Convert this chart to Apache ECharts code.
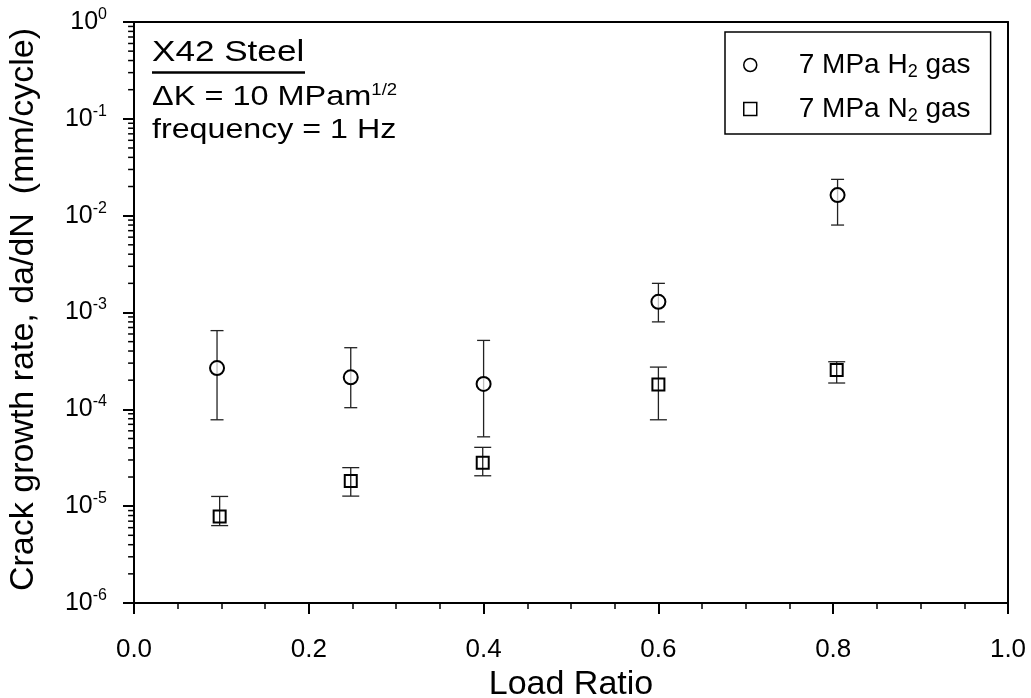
<!DOCTYPE html>
<html><head><meta charset="utf-8">
<script src="https://cdn.jsdelivr.net/npm/echarts@6/dist/echarts.min.js"></script>
<style>html,body{margin:0;padding:0;background:#fff}#c{width:1031px;height:698px}</style>
</head><body><div id="c"></div>
<script>
const FONT = '"Liberation Sans", Arial, Helvetica, sans-serif';

// ---- data ----
const h2Ratio = [0.095, 0.248, 0.400, 0.600, 0.805];
const h2Rate  = [2.67e-4, 2.14e-4, 1.83e-4, 1.29e-3, 1.63e-2];
const h2Low   = [7.8e-5, 1.04e-4, 5.2e-5, 8.0e-4, 8.0e-3];
const h2High  = [6.5e-4, 4.33e-4, 5.15e-4, 2.0e-3, 2.37e-2];

const n2Ratio = [0.098, 0.248, 0.399, 0.600, 0.804];
const n2Rate  = [7.8e-6, 1.82e-5, 2.81e-5, 1.81e-4, 2.55e-4];
const n2Low   = [6.3e-6, 1.27e-5, 2.06e-5, 7.8e-5, 1.87e-4];
const n2High  = [1.26e-5, 2.5e-5, 4.05e-5, 2.73e-4, 3.1e-4];

const seriesNames = ['H2', 'N2'];
const legendGas = ['H', 'N'];
const xTickLabels = ['0.0', '0.2', '0.4', '0.6', '0.8', '1.0'];
const yTickExponents = ['0', '-1', '-2', '-3', '-4', '-5', '-6'];
const yMinorMultipliers = [2, 3, 4, 5, 6, 7, 8, 9];
const yDecades = [1e-6, 1e-5, 1e-4, 1e-3, 1e-2, 1e-1];

// logarithmic minor tick values (2..9 x 10^n)
const minorTickValues = [];
for (let i = 0; i < yDecades.length; i++) {
  for (let j = 0; j < yMinorMultipliers.length; j++) {
    minorTickValues.push(yDecades[i] * yMinorMultipliers[j]);
  }
}

const chart = echarts.init(document.getElementById('c'), null, {renderer: 'canvas'});

function errData(xs, lo, hi) { return xs.map((x, i) => [x, lo[i], hi[i]]); }
function ptData(xs, ys) { return xs.map((x, i) => [x, ys[i]]); }

function errRender(capW) {
  return function (params, api) {
    const x = api.value(0);
    const pLo = api.coord([x, api.value(1)]);
    const pHi = api.coord([x, api.value(2)]);
    const st = {stroke: '#222', lineWidth: 1.3};
    return {
      type: 'group',
      children: [
        {type: 'line', shape: {x1: pLo[0], y1: pLo[1], x2: pHi[0], y2: pHi[1]}, style: st},
        {type: 'line', shape: {x1: pLo[0] - capW / 2, y1: pLo[1], x2: pLo[0] + capW / 2, y2: pLo[1]}, style: st},
        {type: 'line', shape: {x1: pHi[0] - capW / 2, y1: pHi[1], x2: pHi[0] + capW / 2, y2: pHi[1]}, style: st}
      ]
    };
  };
}

// minor ticks of the log axis: a group of short lines, one per value, y from the axis scale
function minorTickRender(params, api) {
  const p = api.coord([api.value(0), api.value(1)]);
  return {
    type: 'group',
    children: [{
      type: 'rect', shape: {x: p[0] - 6, y: p[1] - 0.75, width: 6, height: 1.5},
      style: {fill: '#000'}
    }]
  };
}

const logMin = 1e-6, logMax = 1;

const option = {
  backgroundColor: '#fff',
  animation: false,
  textStyle: {fontFamily: FONT, color: '#000'},
  grid: {left: 134, right: 23, top: 22, bottom: 95, outerBoundsMode: 'none'},
  xAxis: [
    {
      type: 'value', min: 0, max: 1, interval: 0.2, position: 'bottom',
      axisLine: {show: true, onZero: false, lineStyle: {color: '#000', width: 2}},
      axisTick: {show: true, length: 11, lineStyle: {color: '#000', width: 2}},
      minorTick: {show: true, splitNumber: 4, length: 6, lineStyle: {color: '#000', width: 1.5}},
      splitLine: {show: false}, minorSplitLine: {show: false},
      axisLabel: {margin: 34, fontSize: 26, fontFamily: FONT, color: '#000',
        formatter: v => xTickLabels[Math.round(v / 0.2)]},
      name: 'Load Ratio', nameLocation: 'middle', nameGap: 61,
      nameTextStyle: {fontSize: 34, fontFamily: FONT, color: '#000'}
    },
    {
      type: 'value', min: 0, max: 1, position: 'top',
      axisLine: {show: true, onZero: false, lineStyle: {color: '#000', width: 2}},
      axisTick: {show: false}, axisLabel: {show: false}, splitLine: {show: false}
    }
  ],
  yAxis: [
    {
      type: 'log', logBase: 10, min: logMin, max: logMax, position: 'left',
      axisLine: {show: true, onZero: false, lineStyle: {color: '#000', width: 2}},
      axisTick: {show: true, length: 11, lineStyle: {color: '#000', width: 2}},
      splitLine: {show: false},
      axisLabel: {
        margin: 27, color: '#000',
        formatter: v => '{b|10}{sup|' + yTickExponents[Math.round(-Math.log10(v))] + '}',
        rich: {
          b: {fontSize: 25, fontFamily: FONT, color: '#000'},
          sup: {fontSize: 16, fontFamily: FONT, color: '#000', padding: [0, 0, 15, 0]}
        }
      },
      name: 'Crack growth rate, da/dN  (mm/cycle)', nameLocation: 'middle', nameGap: 93,
      nameTextStyle: {fontSize: 34, fontFamily: FONT, color: '#000', padding: [0, 0, 0, 6]}
    },
    {
      type: 'log', logBase: 10, min: logMin, max: logMax, position: 'right',
      axisLine: {show: true, onZero: false, lineStyle: {color: '#000', width: 2}},
      axisTick: {show: false}, axisLabel: {show: false}, splitLine: {show: false}
    }
  ],
  legend: {
    orient: 'vertical', left: 725, top: 32,
    padding: [17, 20, 9, 18], itemGap: 12, itemWidth: 13, itemHeight: 13,
    borderColor: '#000', borderWidth: 1.5, selectedMode: false,
    data: [{name: seriesNames[0], icon: 'circle'}, {name: seriesNames[1], icon: 'rect'}],
    itemStyle: {borderWidth: 1.5, borderColor: '#000'},
    formatter: name => '{sp| }{b|7 MPa ' + legendGas[seriesNames.indexOf(name)] + '}{sub|2}{b| gas}',
    textStyle: {
      fontSize: 28, fontFamily: FONT, color: '#000',
      rich: {
        sp: {width: 37, fontSize: 28},
        b: {fontSize: 28, lineHeight: 31, fontFamily: FONT, color: '#000'},
        sub: {fontSize: 18, lineHeight: 18, fontFamily: FONT, color: '#000', padding: [14, 0, 0, 0]}
      }
    }
  },
  graphic: [
    {type: 'text', x: 152, y: 52.5, scaleX: 1.17, silent: true,
      style: {text: 'X42 Steel', fontSize: 30, fontFamily: FONT, fill: '#000', align: 'left', verticalAlign: 'middle'}},
    {type: 'line', silent: true, shape: {x1: 152, y1: 72.5, x2: 305, y2: 72.5},
      style: {stroke: '#000', lineWidth: 2.5}},
    {type: 'text', x: 152, y: 97.5, scaleX: 1.16, silent: true,
      style: {text: '{b|ΔK = 10 MPam}{sup|1/2}', align: 'left', verticalAlign: 'middle',
        rich: {
          b: {fontSize: 28, fontFamily: FONT, fill: '#000'},
          sup: {fontSize: 16, fontFamily: FONT, fill: '#000', padding: [0, 0, 13, 0]}
        }}},
    {type: 'text', x: 152, y: 130, scaleX: 1.15, silent: true,
      style: {text: 'frequency = 1 Hz', fontSize: 28, fontFamily: FONT, fill: '#000', align: 'left', verticalAlign: 'middle'}}
  ],
  series: [
    {
      type: 'custom', name: 'yMinorTicks', coordinateSystem: 'cartesian2d',
      xAxisIndex: 0, yAxisIndex: 0, silent: true, z: 5, clip: false,
      renderItem: minorTickRender, encode: {x: 0, y: 1},
      data: minorTickValues.map(v => [0.0001, v])
    },
    {
      type: 'custom', name: 'H2 err', xAxisIndex: 0, yAxisIndex: 0, silent: true, z: 2,
      renderItem: errRender(13), encode: {x: 0, y: [1, 2]},
      data: errData(h2Ratio, h2Low, h2High)
    },
    {
      type: 'custom', name: 'N2 err', xAxisIndex: 0, yAxisIndex: 0, silent: true, z: 2,
      renderItem: errRender(17), encode: {x: 0, y: [1, 2]},
      data: errData(n2Ratio, n2Low, n2High)
    },
    {
      type: 'scatter', name: seriesNames[0], xAxisIndex: 0, yAxisIndex: 0, z: 3, silent: true,
      symbol: 'circle', symbolSize: 14,
      itemStyle: {color: 'rgba(255,255,255,0.7)', borderColor: '#000', borderWidth: 2, opacity: 1},
      emphasis: {disabled: true},
      data: ptData(h2Ratio, h2Rate)
    },
    {
      type: 'scatter', name: seriesNames[1], xAxisIndex: 0, yAxisIndex: 0, z: 3, silent: true,
      symbol: 'rect', symbolSize: 12,
      itemStyle: {color: 'rgba(255,255,255,0)', borderColor: '#000', borderWidth: 2, opacity: 1},
      emphasis: {disabled: true},
      data: ptData(n2Ratio, n2Rate)
    }
  ]
};
chart.setOption(option);
</script></body></html>
